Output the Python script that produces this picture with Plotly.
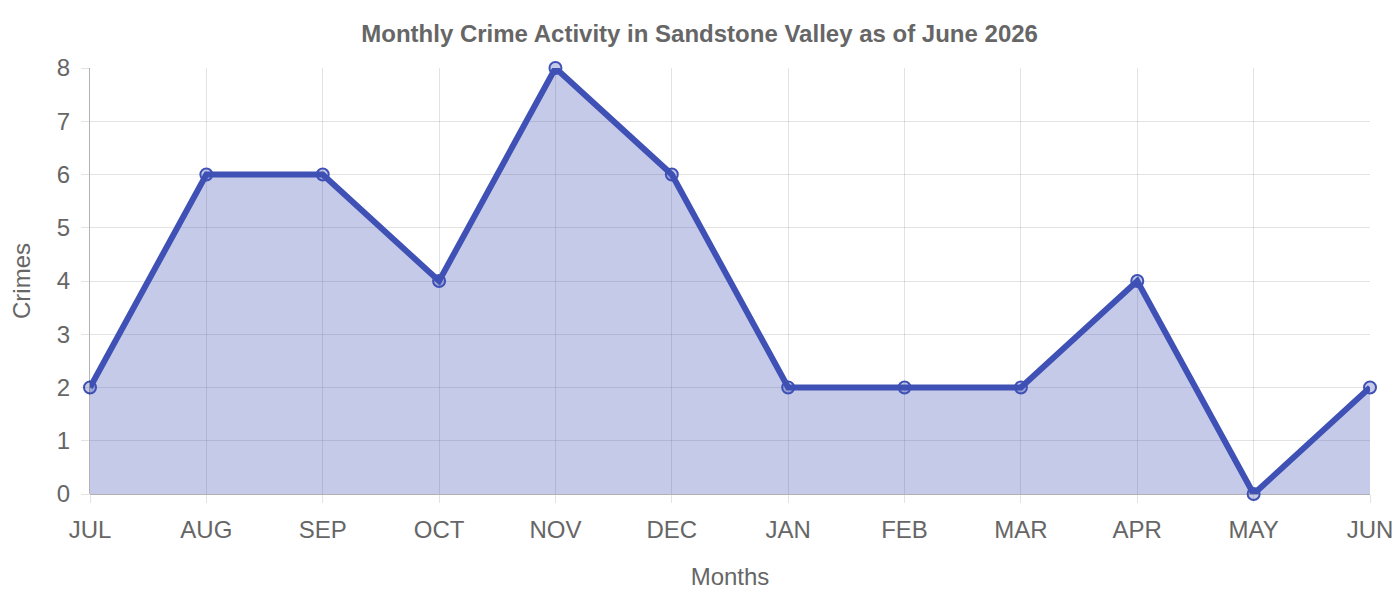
import plotly.graph_objs as go

months = ['JUL', 'AUG', 'SEP', 'OCT', 'NOV', 'DEC', 'JAN', 'FEB', 'MAR', 'APR', 'MAY', 'JUN']
crimes = [2, 6, 6, 4, 8, 6, 2, 2, 2, 4, 0, 2]

line_color = '#3F51B5'
fill_color = 'rgba(63,81,181,0.3)'
grid_color = 'rgba(0,0,0,0.11)'
font_family = 'Liberation Sans, Arial, sans-serif'


def main():
    fig = go.Figure()
    fig.add_trace(go.Scatter(
        x=months, y=crimes, mode='lines+markers', name='Crimes',
        fill='tozeroy', fillcolor=fill_color,
        line=dict(color=line_color, width=6),
        marker=dict(size=12, color=fill_color, line=dict(color=line_color, width=2)),
        cliponaxis=False,
    ))
    fig.update_layout(
        width=1400, height=600,
        paper_bgcolor='white', plot_bgcolor='white',
        margin=dict(l=82, r=38, t=60, b=114),
        showlegend=False,
        font=dict(family=font_family, color='#666666', size=24),
        title=dict(text='<b>Monthly Crime Activity in Sandstone Valley as of June 2026</b>',
                   xref='container', x=0.494, xanchor='center',
                   yref='container', y=0.957, yanchor='middle',
                   font=dict(size=24, color='#666666')),
    )
    fig.update_xaxes(
        type='category', range=[0, len(months) - 1],
        showgrid=True, gridcolor=grid_color, gridwidth=1,
        ticks='outside', ticklen=8, tickcolor=grid_color,
        ticklabelstandoff=6,
        showline=False, zeroline=False,
        tickfont=dict(size=24),
        title=dict(text='Months', font=dict(size=24), standoff=26),
    )
    fig.update_yaxes(
        range=[0, 8], dtick=1,
        showgrid=True, gridcolor=grid_color, gridwidth=1,
        ticks='outside', ticklen=8, tickcolor=grid_color,
        ticklabelstandoff=6,
        showline=True, linecolor='rgba(0,0,0,0.3)', linewidth=1,
        zeroline=True, zerolinecolor='rgba(0,0,0,0.3)', zerolinewidth=1,
        tickfont=dict(size=24),
        title=dict(text='Crimes', font=dict(size=24), standoff=19),
    )
    fig.write_html('out.html')


if __name__ == '__main__':
    main()
